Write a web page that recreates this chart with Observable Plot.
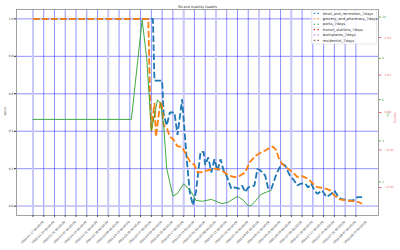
<!DOCTYPE html>
<html><head><meta charset="utf-8">
<script src="https://cdn.jsdelivr.net/npm/d3@7"></script>
<script src="https://cdn.jsdelivr.net/npm/@observablehq/plot@0.6"></script>
<style>body{margin:0;background:#fff;}</style>
</head><body><div id="chart"></div>
<script>
// ---- data ----
const retailDates = ["2020-01-17","2020-04-04","2020-04-05","2020-04-10","2020-04-11","2020-04-13","2020-04-15","2020-04-18","2020-04-20","2020-04-23","2020-04-26","2020-04-28","2020-04-30","2020-05-02","2020-05-05","2020-05-07","2020-05-08","2020-05-10","2020-05-12","2020-05-14","2020-05-16","2020-05-18","2020-05-20","2020-05-22","2020-05-25","2020-05-27","2020-05-30","2020-06-01","2020-06-03","2020-06-05","2020-06-09","2020-06-11","2020-06-13","2020-06-16","2020-06-18","2020-06-20","2020-06-23","2020-06-25","2020-06-27","2020-06-29","2020-07-02","2020-07-04","2020-07-07","2020-07-09","2020-07-12","2020-07-14","2020-07-16","2020-07-18","2020-07-20","2020-07-23","2020-07-26","2020-07-29","2020-07-31","2020-08-02","2020-08-04","2020-08-09","2020-08-12","2020-08-15","2020-08-18"];
const retailValues = [1.0,1.0,0.67,0.67,0.49,0.43,0.50,0.50,0.38,0.57,0.25,0.075,0.005,0.075,0.29,0.29,0.22,0.26,0.18,0.25,0.19,0.25,0.19,0.16,0.093,0.10,0.093,0.11,0.075,0.10,0.11,0.20,0.19,0.164,0.093,0.093,0.164,0.20,0.226,0.217,0.164,0.146,0.11,0.12,0.12,0.10,0.12,0.084,0.066,0.084,0.048,0.066,0.084,0.057,0.039,0.030,0.030,0.048,0.048];

const groceryDates = ["2020-01-17","2020-04-01","2020-04-02","2020-04-03","2020-04-05","2020-04-06","2020-04-08","2020-04-09","2020-04-10","2020-04-11","2020-04-13","2020-04-15","2020-04-17","2020-04-20","2020-04-23","2020-04-26","2020-04-28","2020-05-01","2020-05-03","2020-05-05","2020-05-09","2020-05-14","2020-05-18","2020-05-23","2020-05-27","2020-05-30","2020-06-03","2020-06-06","2020-06-10","2020-06-13","2020-06-16","2020-06-18","2020-06-21","2020-06-23","2020-06-25","2020-06-27","2020-07-01","2020-07-04","2020-07-07","2020-07-10","2020-07-14","2020-07-17","2020-07-20","2020-07-24","2020-07-28","2020-07-31","2020-08-04","2020-08-09","2020-08-13","2020-08-16","2020-08-18"];
const groceryValues = [1.0,1.0,0.62,0.40,0.55,0.37,0.50,0.56,0.53,0.43,0.42,0.37,0.36,0.32,0.315,0.27,0.24,0.22,0.18,0.18,0.19,0.20,0.195,0.165,0.155,0.16,0.18,0.235,0.27,0.285,0.297,0.306,0.318,0.30,0.253,0.225,0.199,0.181,0.155,0.16,0.146,0.12,0.101,0.097,0.085,0.057,0.035,0.030,0.025,0.021,0.013];

const r0Dates = ["2020-01-17","2020-03-21","2020-03-28","2020-03-31","2020-04-03","2020-04-07","2020-04-09","2020-04-11","2020-04-13","2020-04-17","2020-04-20","2020-04-24","2020-04-29","2020-05-02","2020-05-06","2020-05-12","2020-05-19","2020-05-23","2020-05-29","2020-06-02","2020-06-05","2020-06-07","2020-06-10","2020-06-13","2020-06-17","2020-06-20"];
const r0Values = [5.04,5.04,9.86,7.98,4.5,5.99,5.81,4.75,2.66,1.32,1.45,1.92,1.52,1.11,1.07,1.16,0.95,1.03,1.31,1.11,0.84,0.87,1.11,1.39,1.52,1.60];

const xTickDates = ["2020-01-17","2020-01-24","2020-01-31","2020-02-07","2020-02-14","2020-02-21","2020-02-28","2020-03-06","2020-03-13","2020-03-20","2020-03-27","2020-04-03","2020-04-10","2020-04-17","2020-04-24","2020-05-01","2020-05-08","2020-05-15","2020-05-22","2020-05-29","2020-06-05","2020-06-12","2020-06-19","2020-06-26","2020-07-03","2020-07-10","2020-07-17","2020-07-24","2020-07-31","2020-08-07","2020-08-14"];
const lightGridDates = ["2020-01-17","2020-03-06","2020-04-24","2020-05-15","2020-06-12","2020-07-03"];
const leftTicks = [0,0.2,0.4,0.6,0.8,1.0];
const greenTicks = [2,4,6,8,10];
const redTicks = [-0.04,-0.02,0.00,0.02,0.04];

const legendNames = ["retail_and_recreation_7days","grocery_and_pharmacy_7days","parks_7days","transit_stations_7days","workplaces_7days","residential_7days"];
const legendColors = ["#1f77b4","#ff7f0e","#2ca02c","#d62728","#9467bd","#8c564b"];

// ---- build ----
const parse = d3.utcParse("%Y-%m-%d");
const retail = retailDates.map((d,i)=>({date:parse(d), value:retailValues[i]}));
const grocery = groceryDates.map((d,i)=>({date:parse(d), value:groceryValues[i]}));
const r0 = r0Dates.map((d,i)=>({date:parse(d), value:r0Values[i]}));
const ticks = xTickDates.map(parse);
const lightTicks = lightGridDates.map(parse);

const allDates = [...retail, ...grocery, ...r0].map(d=>d.date);
const [dmin, dmax] = d3.extent(allDates);
const pad = (dmax - dmin) * 0.05;
const xDomain = [new Date(+dmin - pad), new Date(+dmax + pad)];

const yDomain = [-0.05, 1.05];
const gDomain = [0.38, 10.37];
const rDomain = [-0.055, 0.055];
const mapTo = (dom) => d3.scaleLinear().domain(dom).range(yDomain);
const gToL = mapTo(gDomain), rToL = mapTo(rDomain);

const green = "#3aa83a", red = "#f07070", tickCol = "#333";

const svg = Plot.plot({
  width: 400, height: 250,
  marginLeft: 16, marginRight: 22, marginTop: 9, marginBottom: 35,
  style: {fontFamily: "DejaVu Sans, sans-serif", fontSize: "3px", background: "white", color: tickCol},
  x: {type: "utc", domain: xDomain, axis: null},
  y: {domain: yDomain, axis: null},
  marks: [
    Plot.gridX(ticks, {stroke: "blue", strokeOpacity: 0.55, strokeWidth: 0.8}),
    Plot.gridY(leftTicks, {stroke: "blue", strokeOpacity: 0.55, strokeWidth: 0.8}),
    Plot.ruleX(lightTicks, {stroke: "#c9c9f5", strokeWidth: 2}),
    Plot.ruleY([0], {stroke: "#c9c9f5", strokeWidth: 1.5}),
    Plot.line(retail, {x: "date", y: "value", stroke: "#1f77b4", strokeWidth: 1.8, strokeDasharray: "6.5,2.6", strokeLinecap: "butt", strokeLinejoin: "miter"}),
    Plot.line(grocery, {x: "date", y: "value", stroke: "#ff7f0e", strokeWidth: 1.8, strokeDasharray: "6.5,2.6", strokeLinecap: "butt", strokeLinejoin: "miter"}),
    Plot.line(r0, {x: "date", y: d => gToL(d.value), stroke: "#2ca02c", strokeWidth: 0.9}),
    Plot.frame({stroke: "#8a8a8a", strokeWidth: 0.8}),
    Plot.axisX(ticks, {tickSize: 2, tickFormat: () => "", label: null, stroke: "#555"}),
    Plot.text(ticks, {x: d => d, frameAnchor: "bottom", dy: 17.5, rotate: -45, textAnchor: "middle",
      text: d => d3.utcFormat("%Y-%m-%d 00:00:00")(d), fontSize: 2.9, fill: tickCol}),
    Plot.axisY(leftTicks, {anchor: "left", tickSize: 2, tickPadding: 1, tickFormat: d3.format(".1f"), label: null, fontSize: 3}),
    Plot.axisY(greenTicks.map(gToL), {anchor: "right", tickSize: 1.5, tickPadding: 2, label: null, color: green, fontSize: 3,
      tickFormat: v => String(Math.round(gToL.invert(v)))}),
    Plot.axisY(redTicks.map(rToL), {anchor: "right", tickSize: 2.5, tickPadding: 3.5, label: null, color: red, fontSize: 3,
      tickFormat: v => d3.format(".2f")(Math.round(rToL.invert(v) * 100) / 100 + 0)}),
    Plot.text(["Value"], {frameAnchor: "left", dx: -11, dy: 3, rotate: -90, fontSize: 3, fill: tickCol}),
    Plot.text(["R0"], {frameAnchor: "right", dx: 10, rotate: -90, fontSize: 3, fill: green}),
    Plot.text(["Deaths"], {frameAnchor: "right", dx: 17, rotate: -90, fontSize: 3, fill: red}),
    Plot.text(["R0 and mobility Deaths"], {frameAnchor: "top", dy: -4, fontSize: 3.3, fill: "#222"})
  ]
});

// legend (upper right, inside the axes)
const g = d3.select(svg).append("g").attr("font-family", "DejaVu Sans, sans-serif").attr("text-anchor", "start");
g.append("rect").attr("x", 311.5).attr("y", 10).attr("width", 65).attr("height", 34)
  .attr("fill", "white").attr("fill-opacity", 0.85).attr("stroke", "#d0d0d0").attr("stroke-width", 0.5).attr("rx", 1);
legendNames.forEach((name, i) => {
  const y = 13.4 + i * 5.4;
  g.append("line").attr("x1", 313.8).attr("x2", 319.4).attr("y1", y).attr("y2", y)
    .attr("stroke", legendColors[i]).attr("stroke-width", 1.1).attr("stroke-dasharray", "1.4,2.2");
  g.append("text").attr("x", 322.7).attr("y", y).attr("dy", "0.35em").attr("text-anchor", "start")
    .attr("font-size", 3.6).attr("fill", "#333").text(name);
});

document.getElementById("chart").appendChild(svg);
</script>
</body></html>
